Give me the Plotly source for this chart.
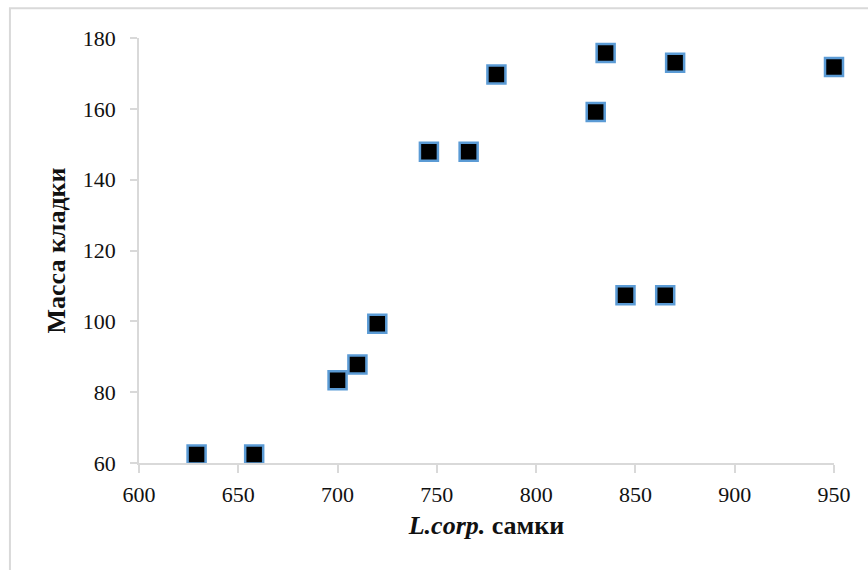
import plotly.graph_objects as go

# Female body length (L.corp.) and clutch mass
female_length = [629, 658, 700, 710, 720, 746, 766, 780, 830, 835, 845, 865, 870, 950]
clutch_mass = [62.4, 62.4, 83.4, 87.8, 99.3, 147.9, 147.9, 169.7, 159.1, 175.8, 107.4, 107.4, 173.0, 171.8]

x_ticks = [600, 650, 700, 750, 800, 850, 900, 950]
y_ticks = [60, 80, 100, 120, 140, 160, 180]

FONT = "Liberation Serif, Times New Roman, serif"
GRID_GREY = "#d9d9d9"

fig = go.Figure(
    go.Scatter(
        x=female_length,
        y=clutch_mass,
        mode="markers",
        marker=dict(
            symbol="square",
            size=18,
            color="black",
            line=dict(color="#5b9bd5", width=2.5),
        ),
        cliponaxis=False,
        showlegend=False,
    )
)

axis_common = dict(
    showgrid=False,
    zeroline=False,
    showline=True,
    linecolor=GRID_GREY,
    linewidth=1.5,
    ticks="outside",
    tickcolor=GRID_GREY,
    tickwidth=1.5,
    tickfont=dict(family=FONT, size=22, color="#111111"),
)

fig.update_xaxes(
    range=[600, 950],
    tickvals=x_ticks,
    ticklen=8,
    ticklabelstandoff=3,
    title=dict(
        text="<b><i>L.corp.</i> самки</b>",
        font=dict(family=FONT, size=26, color="#111111"),
        standoff=10,
    ),
    **axis_common,
)
fig.update_yaxes(
    range=[60, 180],
    tickvals=y_ticks,
    ticklen=7,
    ticklabelstandoff=10,
    title=dict(
        text="<b>Масса кладки</b>",
        font=dict(family=FONT, size=26, color="#111111"),
        standoff=10,
    ),
    **axis_common,
)

# light frame around the chart area
fig.add_shape(
    type="rect",
    xref="paper",
    yref="paper",
    x0=-0.1857,
    x1=1.06,
    y0=-0.28,
    y1=1.0701,
    line=dict(color=GRID_GREY, width=2),
    layer="below",
)

fig.update_layout(
    width=868,
    height=570,
    margin=dict(l=139, r=34, t=38, b=107),
    paper_bgcolor="white",
    plot_bgcolor="white",
)

fig.write_html("out.html")
